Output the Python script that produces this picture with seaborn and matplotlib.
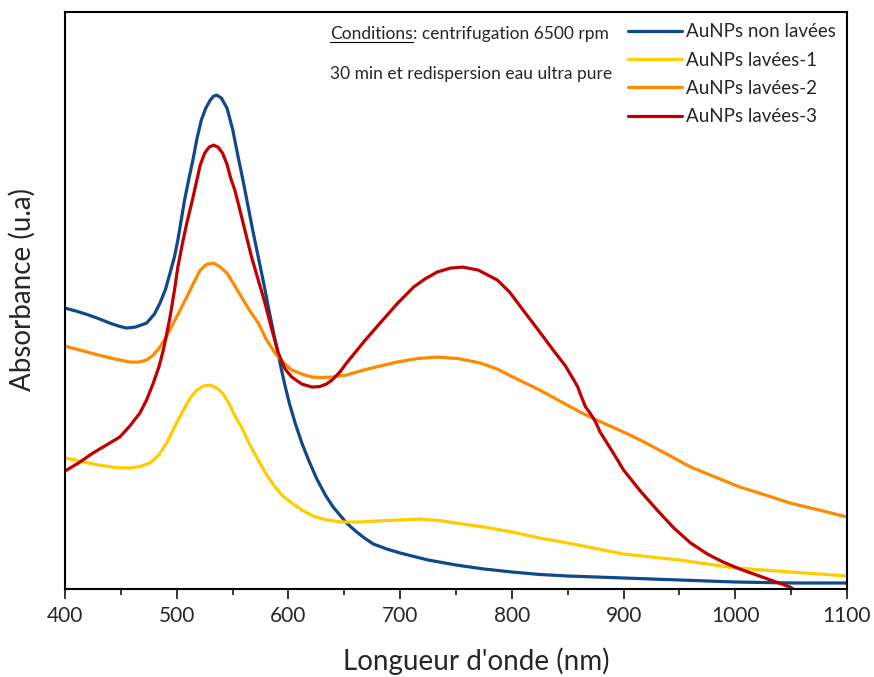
#! /usr/bin/env python3
import pandas as pd
import seaborn as sns
import matplotlib.pyplot as plt
from matplotlib.ticker import MultipleLocator
from matplotlib.lines import Line2D

# spectres UV-Vis (absorbance en u.a.)
wl_non_lavees = [400, 410, 420, 430, 440, 448, 455, 463, 473, 480, 485, 490, 494, 498,
                 501, 504, 507, 511, 515, 518, 522, 526, 530, 533, 536, 540, 545, 550,
                 555, 560, 564, 568, 573, 578, 582, 586, 590, 594, 597, 601, 606, 612,
                 618, 625, 633, 640, 646, 652, 660, 668, 676, 688, 700, 725, 750, 775,
                 800, 825, 850, 875, 900, 950, 1000, 1050, 1100]
abs_non_lavees = [0.562, 0.556, 0.549, 0.541, 0.532, 0.526, 0.522, 0.524, 0.532, 0.550,
                  0.572, 0.600, 0.632, 0.665, 0.698, 0.738, 0.778, 0.822, 0.864, 0.900,
                  0.938, 0.962, 0.978, 0.986, 0.988, 0.982, 0.962, 0.920, 0.864, 0.810,
                  0.764, 0.718, 0.664, 0.610, 0.564, 0.520, 0.478, 0.436, 0.406, 0.370,
                  0.332, 0.292, 0.258, 0.222, 0.188, 0.164, 0.148, 0.132, 0.116, 0.102,
                  0.090, 0.080, 0.072, 0.058, 0.048, 0.040, 0.034, 0.029, 0.026, 0.024,
                  0.022, 0.018, 0.014, 0.012, 0.012]

wl_lavees1 = [400, 415, 430, 445, 458, 467, 476, 484, 491, 498, 506, 512, 518, 524, 530,
              536, 541, 547, 552, 558, 565, 573, 580, 588, 595, 603, 612, 622, 634, 648,
              664, 680, 700, 718, 735, 750, 775, 800, 825, 850, 875, 900, 925, 950, 975,
              1000, 1025, 1050, 1075, 1100]
abs_lavees1 = [0.262, 0.255, 0.248, 0.243, 0.242, 0.245, 0.252, 0.268, 0.292, 0.324,
               0.358, 0.382, 0.398, 0.406, 0.408, 0.402, 0.392, 0.370, 0.346, 0.324,
               0.290, 0.258, 0.230, 0.204, 0.186, 0.172, 0.158, 0.146, 0.138, 0.134,
               0.134, 0.136, 0.138, 0.140, 0.137, 0.132, 0.124, 0.114, 0.102, 0.092,
               0.081, 0.070, 0.064, 0.058, 0.050, 0.042, 0.038, 0.034, 0.030, 0.026]

wl_lavees2 = [400, 415, 430, 445, 458, 466, 473, 479, 485, 491, 497, 503, 509, 515, 521,
              527, 533, 539, 545, 551, 558, 565, 573, 580, 588, 595, 603, 612, 621, 630,
              639, 652, 667, 682, 697, 715, 733, 752, 772, 787, 801, 813, 825, 843, 861,
              880, 900, 915, 937, 960, 982, 1004, 1027, 1049, 1075, 1100]
abs_lavees2 = [0.486, 0.477, 0.468, 0.460, 0.454, 0.454, 0.458, 0.468, 0.484, 0.506,
               0.532, 0.558, 0.584, 0.612, 0.638, 0.650, 0.652, 0.644, 0.632, 0.610,
               0.584, 0.558, 0.532, 0.500, 0.472, 0.454, 0.438, 0.430, 0.424, 0.423,
               0.424, 0.428, 0.438, 0.446, 0.454, 0.461, 0.464, 0.461, 0.452, 0.440,
               0.424, 0.411, 0.398, 0.376, 0.354, 0.334, 0.314, 0.298, 0.272, 0.244,
               0.224, 0.204, 0.188, 0.172, 0.158, 0.144]

wl_lavees3 = [400, 412, 425, 437, 449, 458, 467, 473, 479, 484, 488, 491, 494, 498, 501,
              505, 509, 514, 518, 521, 525, 529, 533, 537, 541, 545, 548, 552, 555, 561,
              567, 573, 579, 585, 591, 597, 603, 612, 621, 628, 634, 639, 646, 652, 660,
              668, 675, 682, 690, 697, 705, 712, 722, 733, 745, 756, 770, 787, 798, 810,
              823, 837, 848, 856, 859, 862, 866, 870, 875, 879, 890, 900, 915, 930, 945,
              960, 975, 989, 1004, 1019, 1034, 1049, 1053]
abs_lavees3 = [0.236, 0.252, 0.272, 0.288, 0.304, 0.326, 0.352, 0.378, 0.412, 0.444,
               0.478, 0.510, 0.544, 0.598, 0.644, 0.690, 0.732, 0.778, 0.818, 0.848,
               0.872, 0.884, 0.888, 0.884, 0.872, 0.850, 0.824, 0.798, 0.772, 0.718,
               0.664, 0.618, 0.572, 0.520, 0.472, 0.440, 0.424, 0.410, 0.404, 0.405,
               0.410, 0.418, 0.434, 0.452, 0.474, 0.496, 0.514, 0.532, 0.552, 0.570,
               0.588, 0.604, 0.620, 0.634, 0.642, 0.644, 0.638, 0.618, 0.594, 0.558,
               0.520, 0.478, 0.446, 0.416, 0.404, 0.386, 0.364, 0.352, 0.334, 0.314,
               0.275, 0.238, 0.196, 0.158, 0.122, 0.092, 0.070, 0.054, 0.040, 0.028,
               0.016, 0.004, -0.002]

labels = ["AuNPs non lavées", "AuNPs lavées-1", "AuNPs lavées-2", "AuNPs lavées-3"]
colors = ["#0E4A8A", "#FFCC00", "#FF8A00", "#C00000"]


def main():
    sns.set_style("white")
    plt.rcParams["font.family"] = ["Lato", "DejaVu Sans"]

    series = [(wl_non_lavees, abs_non_lavees), (wl_lavees1, abs_lavees1),
              (wl_lavees2, abs_lavees2), (wl_lavees3, abs_lavees3)]
    frames = []
    for lab, (wl, ab) in zip(labels, series):
        frames.append(pd.DataFrame({"wl": wl, "abs": ab, "kind": lab}))
    df = pd.concat(frames, ignore_index=True)

    fig = plt.figure(figsize=(8.74, 6.77), dpi=100)
    ax = fig.add_axes([0.0744, 0.130, 0.8947, 0.852])

    sns.lineplot(data=df, x="wl", y="abs", hue="kind", palette=colors,
                 hue_order=labels, estimator=None, sort=False, linewidth=2.3, ax=ax)

    ax.set_xlim(400, 1100)
    ax.set_ylim(0, 1.154)
    ax.xaxis.set_major_locator(MultipleLocator(100))
    ax.xaxis.set_minor_locator(MultipleLocator(50))
    ax.tick_params(axis="x", which="major", direction="out", length=7, width=1.3,
                   labelsize=15, bottom=True, pad=5)
    ax.tick_params(axis="x", which="minor", direction="out", length=4, width=1.3,
                   bottom=True)
    ax.set_yticks([])
    for sp in ax.spines.values():
        sp.set_color("black")
        sp.set_linewidth(1.5)

    ax.set_xlabel("Longueur d'onde (nm)", fontsize=20)
    ax.set_ylabel("Absorbance (u.a)", fontsize=20)
    ax.xaxis.set_label_coords(0.526, -0.102)
    ax.yaxis.set_label_coords(-0.037, 0.519)

    legend = ax.legend(loc="upper right", frameon=False, fontsize=13.5,
                       handlelength=2.9, handletextpad=0.2, labelspacing=0.6,
                       borderaxespad=0.3, borderpad=0.3)
    legend.set_title("")

    # texte des conditions, "Conditions" souligne
    x0, y0 = 0.339, 0.962
    t1 = ax.text(x0, y0, "Conditions", transform=ax.transAxes, fontsize=12.5,
                 va="center", ha="left")
    renderer = fig.canvas.get_renderer()
    bb = t1.get_window_extent(renderer).transformed(ax.transAxes.inverted())
    ax.text(bb.x1, y0, ": centrifugation 6500 rpm", transform=ax.transAxes,
            fontsize=12.5, va="center", ha="left")
    ax.add_line(Line2D([bb.x0, bb.x1], [bb.y0 + 0.001, bb.y0 + 0.001],
                       transform=ax.transAxes, color="black", linewidth=0.8))
    ax.text(x0, 0.893, "30 min et redispersion eau ultra pure",
            transform=ax.transAxes, fontsize=12.5, va="center", ha="left")

    plt.savefig("out.png", dpi=100)


if __name__ == "__main__":
    main()
